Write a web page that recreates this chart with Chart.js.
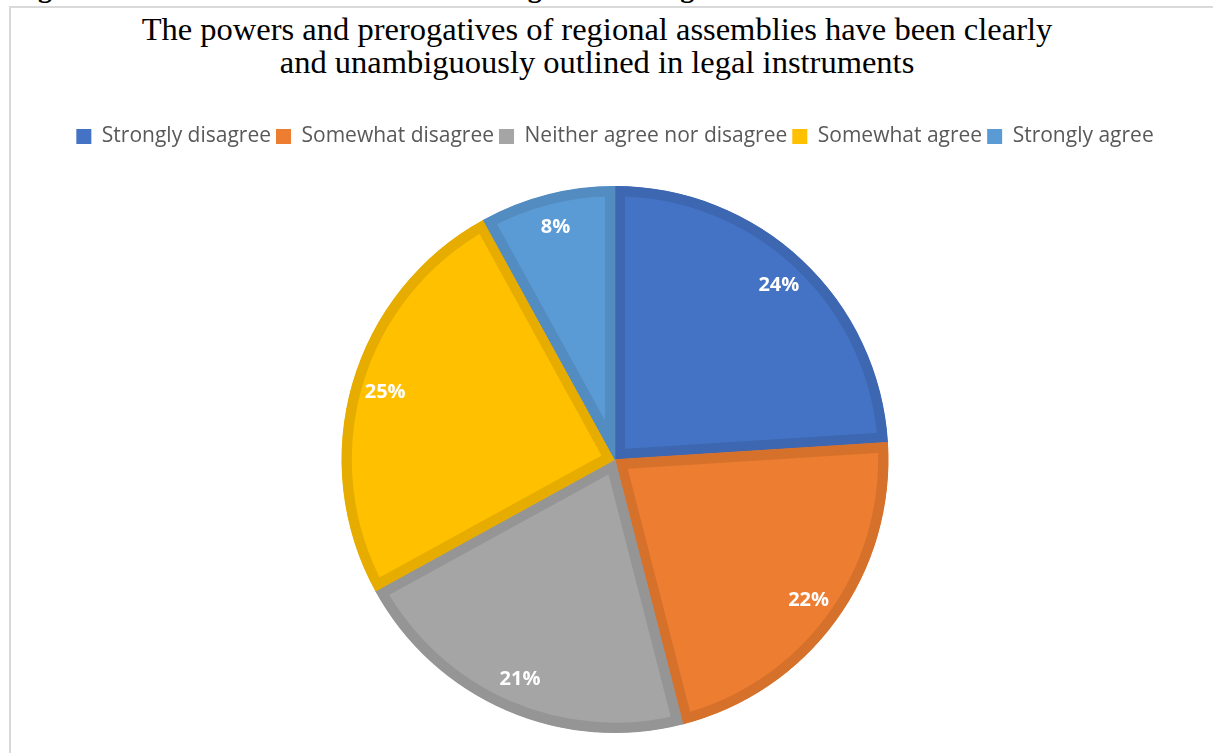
<!DOCTYPE html>
<html>
<head>
<meta charset="utf-8">
<script src="https://cdn.jsdelivr.net/npm/chart.js@4.4.1/dist/chart.umd.min.js"></script>
<style>
  html, body { margin: 0; padding: 0; background: #ffffff; overflow: hidden; }
  #wrap { position: relative; width: 1213px; height: 753px; overflow: hidden; }
  #caption { position: absolute; left: 13px; top: -26px; font-family: 'Liberation Serif', 'Times New Roman', serif; font-weight: bold; font-size: 28px; line-height: 28px; white-space: nowrap; color: #000; }
  #frame { position: absolute; left: 9px; top: 6px; width: 1220px; height: 770px; border: 2px solid #d9d9d9; box-sizing: border-box; background: #fff; }
  #title { position: absolute; left: 0; top: 13px; width: 1194px; text-align: center; font-family: 'Liberation Serif', 'Times New Roman', serif; font-size: 32.5px; line-height: 33px; color: #000; }
  #c { position: absolute; left: 0; top: 0; }
</style>
</head>
<body>
<div id="wrap">
  <div id="caption">Figure 6: Codification of Powers and Prerogatives of Regional Assemblies</div>
  <div id="frame"></div>
  <div id="title">The powers and prerogatives of regional assemblies have been clearly<br>and unambiguously outlined in legal instruments</div>
  <canvas id="c" width="1213" height="753"></canvas>
</div>
<script>
const categories = ['Strongly disagree', 'Somewhat disagree', 'Neither agree nor disagree', 'Somewhat agree', 'Strongly agree'];
const shares = [24, 22, 21, 25, 8];
const fillColors = ['#4472C4', '#ED7D31', '#A5A5A5', '#FFC000', '#5B9BD5'];
const edgeColors = ['#3E67B1', '#D6712C', '#959595', '#E6AD00', '#528CC0'];

const legendSpacing = {
  id: 'legendSpacing',
  beforeInit(chart) {
    const origFit = chart.legend.fit;
    chart.legend.fit = function () {
      origFit.bind(chart.legend)();
      this.height += 29;
    };
  }
};

const sliceLabels = {
  id: 'sliceLabels',
  afterDatasetsDraw(chart) {
    const ctx = chart.ctx;
    const meta = chart.getDatasetMeta(0);
    ctx.save();
    ctx.fillStyle = '#ffffff';
    ctx.font = 'bold 20px "Open Sans", sans-serif';
    ctx.textAlign = 'center';
    ctx.textBaseline = 'middle';
    meta.data.forEach((arc, i) => {
      const p = arc.getProps(['x', 'y', 'startAngle', 'endAngle', 'outerRadius'], true);
      const mid = (p.startAngle + p.endAngle) / 2;
      const r = p.outerRadius * 0.875;
      ctx.fillText(shares[i] + '%', p.x + Math.cos(mid) * r, p.y + Math.sin(mid) * r);
    });
    ctx.restore();
  }
};

new Chart(document.getElementById('c'), {
  type: 'pie',
  data: {
    labels: categories,
    datasets: [{
      data: shares,
      backgroundColor: fillColors,
      borderColor: edgeColors,
      borderWidth: 10,
      borderAlign: 'inner',
      borderJoinStyle: 'miter',
      hoverOffset: 0,
      offset: 0
    }]
  },
  options: {
    responsive: false,
    animation: false,
    events: [],
    layout: { padding: { top: 121, bottom: 20, left: 17, right: 0 } },
    plugins: {
      title: { display: false },
      tooltip: { enabled: false },
      legend: {
        position: 'top',
        labels: {
          color: '#595959',
          font: { family: '"Open Sans", sans-serif', size: 21 },
          boxWidth: 15,
          boxHeight: 15,
          padding: 5,
          generateLabels(chart) {
            const items = Chart.overrides.pie.plugins.legend.labels.generateLabels(chart);
            items.forEach((it, i) => { it.lineWidth = 0; it.strokeStyle = fillColors[i]; it.fillStyle = fillColors[i]; });
            return items;
          }
        }
      }
    }
  },
  plugins: [legendSpacing, sliceLabels]
});
</script>
</body>
</html>
